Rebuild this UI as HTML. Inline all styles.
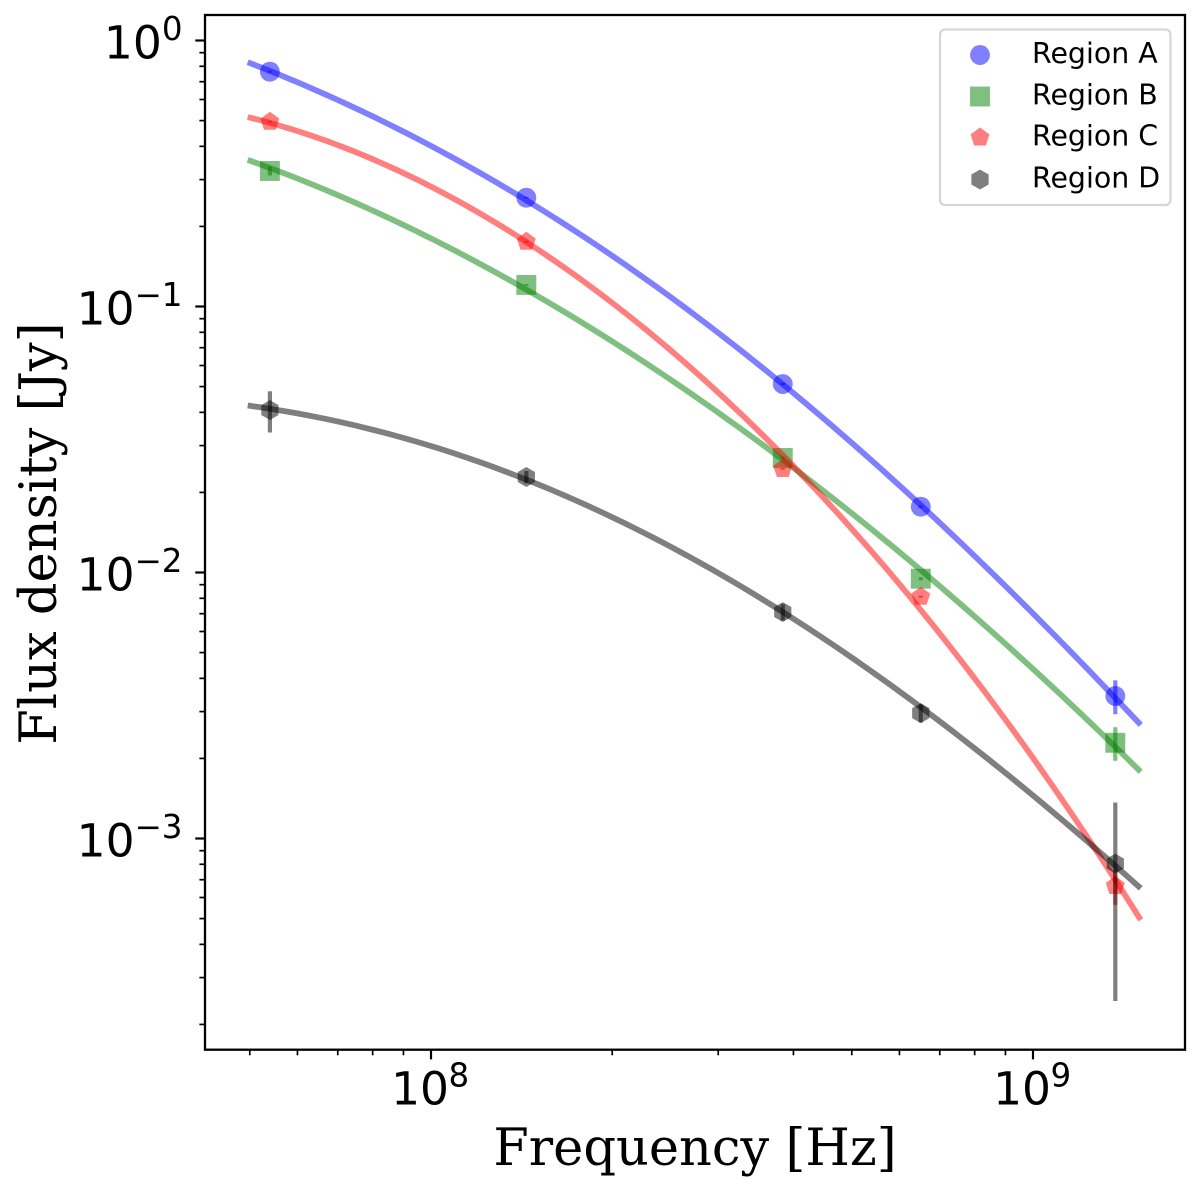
<!DOCTYPE html>
<html>
<head>
<meta charset="utf-8">
<title>Flux density vs frequency</title>
<style>
html,body{margin:0;padding:0;background:#fff;width:1200px;height:1188px;overflow:hidden}
svg{display:block}
.tick{font-family:"DejaVu Sans","Liberation Sans",sans-serif;fill:#000}
.title{font-family:"DejaVu Serif","Liberation Serif",serif;font-size:51px;fill:#000}
.leg{font-family:"DejaVu Sans","Liberation Sans",sans-serif;font-size:28.4px;fill:#000}
</style>
</head>
<body>
<svg id="chart" xmlns="http://www.w3.org/2000/svg" width="1200" height="1188" viewBox="0 0 1200 1188">
  <rect x="0" y="0" width="1200" height="1188" fill="#fff"/>
  <g id="marks"></g>
  <g id="ticks"></g>
  <rect x="205" y="15" width="980" height="1034.7" fill="none" stroke="#000" stroke-width="2.3"/>
  <text class="title" x="695" y="1165" text-anchor="middle">Frequency [Hz]</text>
  <text class="title" transform="translate(56 533.5) rotate(-90)" text-anchor="middle">Flux density [Jy]</text>
  <g id="legend">
    <rect x="940" y="29.5" width="230.5" height="175.5" rx="5" ry="5" fill="#fff" fill-opacity="0.8" stroke="#ccc" stroke-opacity="0.8" stroke-width="2.2"/>
  </g>
</svg>
<script>
// ---- Data (Hz, Jy) ----
const frequencies = [5.4e7, 1.44e8, 3.84e8, 6.51e8, 1.37e9];
const seriesNames = ['Region A', 'Region B', 'Region C', 'Region D'];
const fluxA = [0.7634, 0.2565, 0.05112, 0.01768, 0.003433];
const fluxB = [0.3232, 0.1205, 0.02695, 0.00948, 0.00229];
const fluxC = [0.4953, 0.1752, 0.0245, 0.00811, 0.000663];
const fluxD = [0.0408, 0.02286, 0.0071, 0.00296, 0.000805];
const errA = [0.0066, 0.0015, 0.0005, 0.0002, 0.0005];
const errB = [0.0125, 0.001, 0.0003, 0.00012, 0.00033];
const errC = [0.0043, 0.0015, 0.0002, 0.00008, 0.0001];
const errD = [0.0072, 0.0012, 0.0005, 0.00023, 0.00056];
const fitFrequencies = [4.96e7, 5.4e7, 8.78e7, 1.44e8, 1.908e8, 2.31e8, 2.8e8, 3.84e8, 6.51e8, 9.4e8, 1.37e9, 1.51e9];
const fitA = [0.8323, 0.7678, 0.4607, 0.2565, 0.1659, 0.1229, 0.08974, 0.05112, 0.01768, 0.008158, 0.003404, 0.002648];
const fitB = [0.3555, 0.3317, 0.2084, 0.1174, 0.0781, 0.05873, 0.04451, 0.02718, 0.01022, 0.004855, 0.002246, 0.001768];
const fitC = [0.5127, 0.4953, 0.3212, 0.1778, 0.1114, 0.08042, 0.05385, 0.02765, 0.00723, 0.00245, 0.000698, 0.000494];
const fitD = [0.04264, 0.04107, 0.0324, 0.02266, 0.01674, 0.01363, 0.01105, 0.00712, 0.00307, 0.001635, 0.000809, 0.000637];
const xTickExponents = [8, 9];
const yTickExponents = [0, -1, -2, -3];
const xTickSuperscripts = ['8', '9'];
const yTickSuperscripts = ['0', '\u22121', '\u22122', '\u22123'];
const tickBase = '10';
const minorMultiples = [2, 3, 4, 5, 6, 7, 8, 9];

// ---- Axis functions ----
const plot = {left: 205, right: 1185, top: 15, bottom: 1049.7};
function xScale(f) { return 431 + 602 * (Math.log10(f) - 8); }
function yScale(v) { return 40.5 - 266 * Math.log10(v); }

const NS = 'http://www.w3.org/2000/svg';
function mk(tag, attrs, parent) {
  const el = document.createElementNS(NS, tag);
  for (const k in attrs) el.setAttribute(k, attrs[k]);
  parent.appendChild(el);
  return el;
}
function polygonPoints(cx, cy, r, n) {
  const pts = [];
  for (let i = 0; i < n; i++) {
    const a = -Math.PI / 2 + i * 2 * Math.PI / n;
    pts.push((cx + r * Math.cos(a)).toFixed(2) + ',' + (cy + r * Math.sin(a)).toFixed(2));
  }
  return pts.join(' ');
}
function drawMarker(shape, cx, cy, color, parent) {
  const size = 19.9;
  if (shape === 'circle') return mk('circle', {cx: cx, cy: cy, r: size / 2, fill: color, 'fill-opacity': 0.5}, parent);
  if (shape === 'square') return mk('rect', {x: cx - size / 2, y: cy - size / 2, width: size, height: size, fill: color, 'fill-opacity': 0.5}, parent);
  const n = shape === 'pentagon' ? 5 : 6;
  return mk('polygon', {points: polygonPoints(cx, cy, size / 2, n), fill: color, 'fill-opacity': 0.5}, parent);
}
// Smooth the read-off curve values with a least-squares polynomial in pixel space
function smoothCurve(xs, ys) {
  const deg = 4, x0 = xs[0], span = xs[xs.length - 1] - xs[0];
  const A = [];
  for (let r = 0; r <= deg; r++) {
    const row = new Array(deg + 2).fill(0);
    xs.forEach(function (x, i) {
      const t = (x - x0) / span;
      for (let c = 0; c <= deg; c++) row[c] += Math.pow(t, r + c);
      row[deg + 1] += Math.pow(t, r) * ys[i];
    });
    A.push(row);
  }
  for (let p = 0; p <= deg; p++) {
    for (let r = p + 1; r <= deg; r++) {
      const k = A[r][p] / A[p][p];
      for (let c = p; c <= deg + 1; c++) A[r][c] -= k * A[p][c];
    }
  }
  const co = new Array(deg + 1).fill(0);
  for (let r = deg; r >= 0; r--) {
    let s = A[r][deg + 1];
    for (let c = r + 1; c <= deg; c++) s -= A[r][c] * co[c];
    co[r] = s / A[r][r];
  }
  let d = '';
  const steps = 90;
  for (let i = 0; i <= steps; i++) {
    const t = i / steps;
    let y = 0;
    for (let c = deg; c >= 0; c--) y = y * t + co[c];
    d += (i ? ' L' : 'M') + (x0 + t * span).toFixed(2) + ' ' + y.toFixed(2);
  }
  return d;
}

// ---- Series ----
const seriesFlux = [fluxA, fluxB, fluxC, fluxD];
const seriesErr = [errA, errB, errC, errD];
const seriesFit = [fitA, fitB, fitC, fitD];
const seriesColor = ['#0000ff', '#008000', '#ff0000', '#000000'];
const seriesShape = ['circle', 'square', 'pentagon', 'hexagon'];
const marks = document.getElementById('marks');

seriesNames.forEach(function (name, s) {
  const slug = name.toLowerCase().replace(' ', '-');
  const group = mk('g', {}, marks);
  
  

  frequencies.forEach(function (f, i) {
    const x = xScale(f), v = seriesFlux[s][i], e = seriesErr[s][i];
    const bar = mk('line', {x1: x, x2: x, y1: yScale(v + e), y2: yScale(v - e), stroke: seriesColor[s], 'stroke-opacity': 0.5, 'stroke-width': 4.2}, group);
    
    
    const pt = drawMarker(seriesShape[s], x, yScale(v), seriesColor[s], group);
    
    
  });

  const fit = mk('path', {
    d: smoothCurve(fitFrequencies.map(xScale), seriesFit[s].map(yScale)),
    fill: 'none', stroke: seriesColor[s], 'stroke-opacity': 0.5, 'stroke-width': 5.8
  }, group);
  
  
});

// ---- Ticks ----
const ticks = document.getElementById('ticks');
function xTick(f, len, w) {
  const x = xScale(f);
  if (x < plot.left || x > plot.right) return;
  const t = mk('line', {x1: x, x2: x, y1: plot.bottom, y2: plot.bottom + len, stroke: '#000', 'stroke-width': w}, ticks);
  
  
}
function yTick(v, len, w) {
  const y = yScale(v);
  if (y < plot.top || y > plot.bottom) return;
  const t = mk('line', {x1: plot.left, x2: plot.left - len, y1: y, y2: y, stroke: '#000', 'stroke-width': w}, ticks);
  
  
}
for (let e = 7; e <= 9; e++) {
  minorMultiples.forEach(function (m) { xTick(m * Math.pow(10, e), 5.6, 1.7); });
}
for (let e = -4; e <= 0; e++) {
  minorMultiples.forEach(function (m) { yTick(m * Math.pow(10, e), 5.6, 1.7); });
}
xTickExponents.forEach(function (e, i) {
  const f = Math.pow(10, e), x = xScale(f);
  xTick(f, 9.7, 2.2);
  const base = mk('text', {class: 'tick', 'font-size': 45.5, x: x + 18, y: 1104.5, 'text-anchor': 'end'}, ticks);
  base.textContent = tickBase;
  
  
  const sup = mk('text', {class: 'tick', 'font-size': 32.5, x: x + 17.5, y: 1086.5}, ticks);
  sup.textContent = xTickSuperscripts[i];
  
  
});
yTickExponents.forEach(function (e, i) {
  const v = Math.pow(10, e), y = yScale(v);
  yTick(v, 9.7, 2.2);
  const sup = mk('text', {class: 'tick', 'font-size': 32.5, x: 182.5, y: y - 0.5, 'text-anchor': 'end'}, ticks);
  sup.textContent = yTickSuperscripts[i];
  
  
  const base = mk('text', {class: 'tick', 'font-size': 45.5, x: sup.getComputedTextLength ? 182.5 - sup.getComputedTextLength() : 160, y: y + 17.8, 'text-anchor': 'end'}, ticks);
  base.textContent = tickBase;
  
  
});

// ---- Legend ----
const legend = document.getElementById('legend');
const legendRowY = [55, 96.5, 137.5, 179.5];
seriesNames.forEach(function (name, s) {
  const slug = name.toLowerCase().replace(' ', '-');
  const entry = mk('g', {}, legend);
  
  
  const key = drawMarker(seriesShape[s], 980, legendRowY[s], seriesColor[s], entry);
  
  
  const label = mk('text', {class: 'leg', x: 1032, y: legendRowY[s] + 8}, entry);
  label.textContent = name;
  
  
});
</script>
</body>
</html>
